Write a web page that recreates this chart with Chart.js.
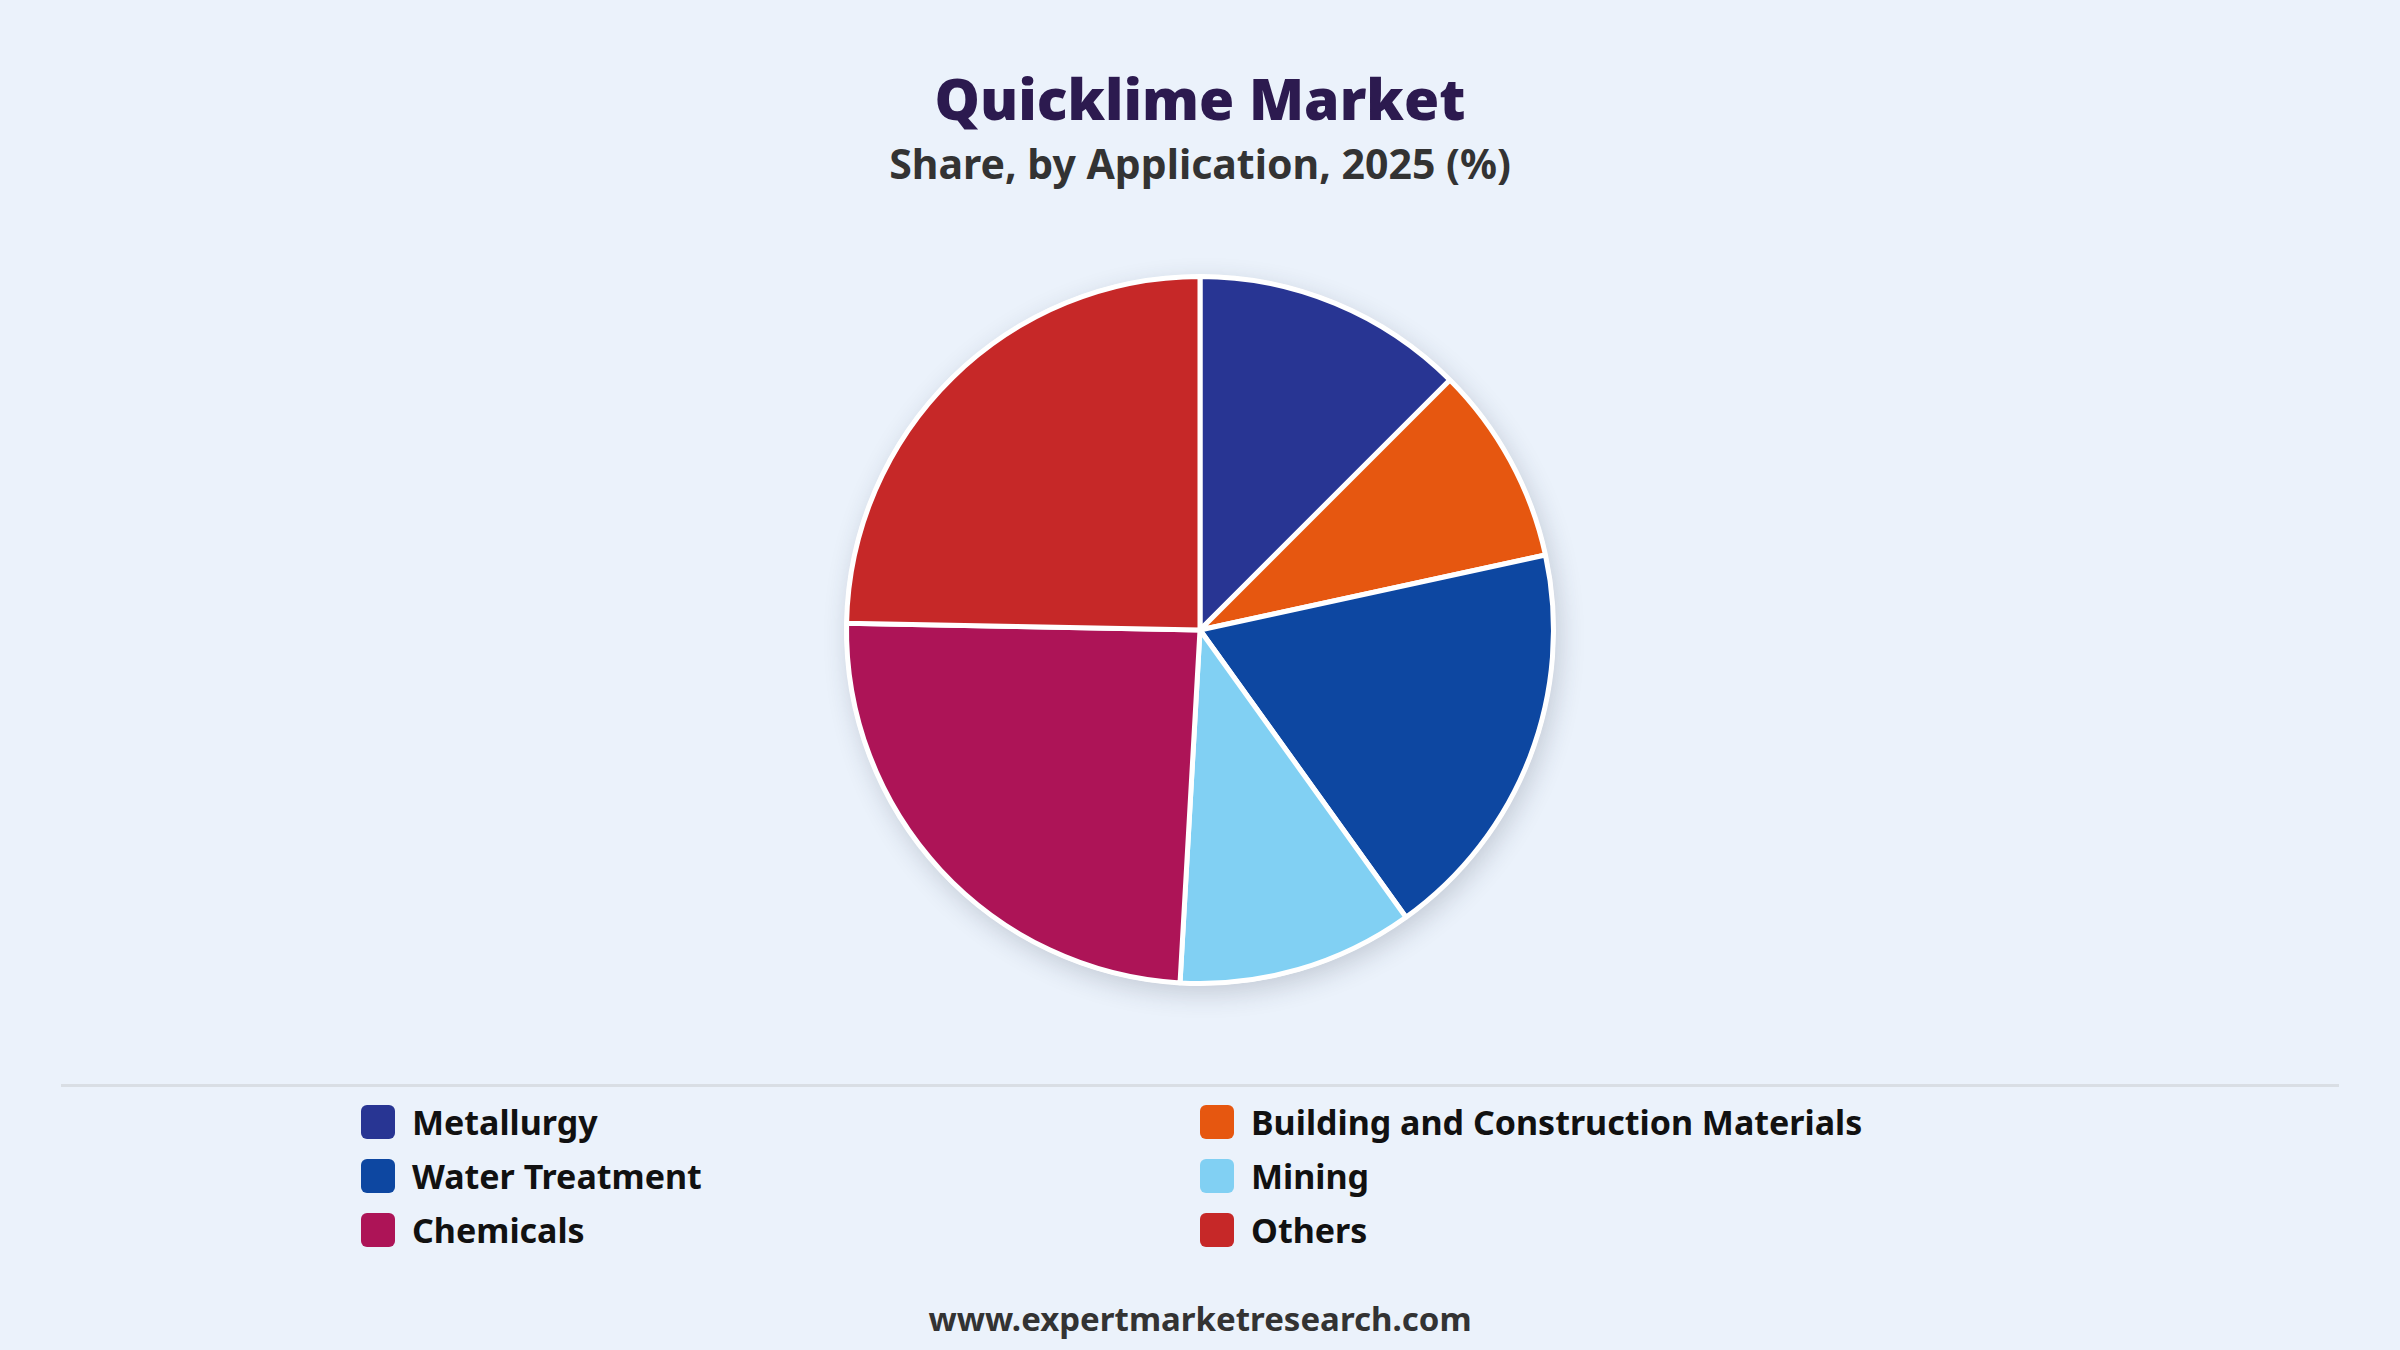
<!DOCTYPE html>
<html>
<head>
<meta charset="utf-8">
<title>Quicklime Market</title>
<script src="https://cdn.jsdelivr.net/npm/chart.js@4.4.1/dist/chart.umd.min.js"></script>
<style>
  html, body { margin: 0; padding: 0; }
  body {
    width: 2400px; height: 1350px; position: relative; overflow: hidden;
    background: #ebf2fb;
    font-family: "Noto Sans", "Open Sans", sans-serif;
  }
  #title {
    position: absolute; left: 0; width: 2400px; top: 58px;
    text-align: center; font-size: 57px; font-weight: 900; color: #2c1a4f;
    line-height: 80px;
  }
  #subtitle {
    position: absolute; left: 0; width: 2400px; top: 136px;
    text-align: center; font-size: 41px; font-weight: 700; color: #333;
    line-height: 54px;
  }
  #pieBox { position: absolute; left: 0; top: 230px; width: 2400px; height: 800px; }
  #sep {
    position: absolute; left: 61px; width: 2278px; top: 1084px; height: 0;
    border-top: 3px solid #d9dee4;
  }
  #legend {
    position: absolute; left: 361px; top: 1103px; width: 1678px;
    display: grid; grid-template-columns: 839px 839px; row-gap: 16px;
  }
  .item { display: flex; align-items: center; height: 38px; }
  .swatch { width: 34px; height: 34px; border-radius: 6px; margin-right: 17px; flex: none; }
  .label { font-size: 34px; font-weight: 700; color: #111; white-space: nowrap; }
  #footer {
    position: absolute; left: 0; width: 2400px; top: 1296px;
    text-align: center; font-size: 33px; font-weight: 700; color: #333;
    line-height: 46px;
  }
</style>
</head>
<body>
<div id="title">Quicklime Market</div>
<div id="subtitle">Share, by Application, 2025 (%)</div>
<div id="pieBox"><canvas id="pieChart"></canvas></div>
<div id="sep"></div>
<div id="legend"></div>
<div id="footer">www.expertmarketresearch.com</div>

<script>
  // data
  const categories = ['Metallurgy', 'Building and Construction Materials', 'Water Treatment', 'Mining', 'Chemicals', 'Others'];
  const shares = [12.5, 9.1, 18.5, 10.8, 24.4, 24.7];
  const sliceColors = ['#283593', '#e65710', '#0d47a1', '#81d0f3', '#ad1457', '#c62828'];

  // soft shadow behind the whole pie
  const pieShadow = {
    id: 'pieShadow',
    beforeDatasetsDraw: function (chart) {
      const arc = chart.getDatasetMeta(0).data[0];
      if (!arc) return;
      const ctx = chart.ctx;
      ctx.save();
      ctx.shadowColor = 'rgba(40, 50, 70, 0.2)';
      ctx.shadowBlur = 26;
      ctx.shadowOffsetX = 4;
      ctx.shadowOffsetY = 8;
      ctx.beginPath();
      ctx.arc(arc.x, arc.y, arc.outerRadius + 2, 0, Math.PI * 2);
      ctx.fillStyle = '#ffffff';
      ctx.fill();
      ctx.restore();
    }
  };

  new Chart(document.getElementById('pieChart'), {
    type: 'pie',
    data: {
      labels: categories,
      datasets: [{
        data: shares,
        backgroundColor: sliceColors,
        borderColor: '#ffffff',
        borderWidth: 5
      }]
    },
    options: {
      responsive: true,
      maintainAspectRatio: false,
      animation: false,
      layout: { padding: 44 },
      plugins: {
        legend: { display: false },
        tooltip: { enabled: false }
      }
    },
    plugins: [pieShadow]
  });

  // legend in two columns, same order as the slices
  const legendEl = document.getElementById('legend');
  legendEl.innerHTML = categories.map(function (name, i) {
    return '<div class="item"><span class="swatch" style="background:' + sliceColors[i] + '"></span>' +
      '<span class="label">' + name + '</span></div>';
  }).join('');
</script>
</body>
</html>
